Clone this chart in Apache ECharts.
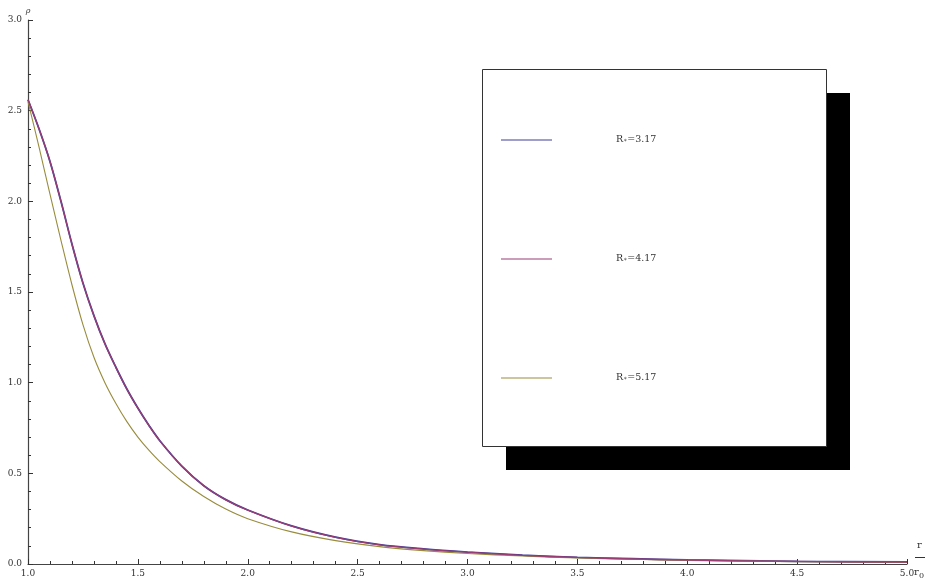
<!DOCTYPE html>
<html>
<head>
<meta charset="utf-8">
<script src="https://cdn.jsdelivr.net/npm/echarts@6/dist/echarts.min.js"></script>
<style>
  html, body { margin: 0; padding: 0; background: #fff; }
  #chart { width: 925px; height: 582px; }
</style>
</head>
<body>
<div id="chart"></div>
<script>
// Radius in units of r0
const rValues = [1.00, 1.05, 1.10, 1.15, 1.20, 1.25, 1.30, 1.35, 1.40, 1.45, 1.50, 1.55, 1.60,
                 1.70, 1.80, 1.90, 2.00, 2.20, 2.40, 2.60, 2.80, 3.00, 3.25, 3.50, 3.75, 4.00, 4.50, 5.00];

// Density profiles for each R*
const rho317 = [2.56, 2.40, 2.22, 2.00, 1.765, 1.55, 1.37, 1.215, 1.085, 0.965, 0.86, 0.765, 0.68,
                0.54, 0.432, 0.355, 0.298, 0.21, 0.148, 0.107, 0.083, 0.066, 0.049, 0.037, 0.029, 0.023, 0.015, 0.011];
const rho417 = [2.56, 2.40, 2.22, 2.00, 1.764, 1.549, 1.369, 1.214, 1.084, 0.964, 0.859, 0.764, 0.679,
                0.539, 0.431, 0.354, 0.297, 0.209, 0.147, 0.106, 0.082, 0.065, 0.048, 0.036, 0.028, 0.022, 0.014, 0.010];
const rho517 = [2.55, 2.30, 2.04, 1.785, 1.54, 1.32, 1.14, 1.00, 0.885, 0.785, 0.70, 0.628, 0.565,
                0.458, 0.372, 0.303, 0.25, 0.177, 0.129, 0.096, 0.074, 0.058, 0.044, 0.033, 0.026, 0.020, 0.013, 0.009];

const seriesNames = ['R*=3.17', 'R*=4.17', 'R*=5.17'];
const seriesColors = ['#3f3d99', '#993d74', '#998c3d'];

const xTicks = [1.0, 1.5, 2.0, 2.5, 3.0, 3.5, 4.0, 4.5, 5.0];
const yTicks = [0.0, 0.5, 1.0, 1.5, 2.0, 2.5, 3.0];

const FONT = '"DejaVu Serif", "Liberation Serif", serif';

function pairs(ys) { return rValues.map((x, i) => [x, ys[i]]); }

const chart = echarts.init(document.getElementById('chart'), null, { renderer: 'canvas' });

const axisCommon = {
  type: 'value',
  axisLine: { show: true, onZero: false, lineStyle: { color: '#444', width: 1.2 } },
  axisTick: { show: true, inside: true, length: 5, lineStyle: { color: '#333', width: 1 } },
  minorTick: { show: true, splitNumber: 5, length: 3, lineStyle: { color: '#333', width: 1 } },
  splitLine: { show: false },
  axisLabel: { color: '#333', fontFamily: FONT, fontSize: 9, formatter: v => v.toFixed(1) }
};

chart.setOption({
  animation: false,
  backgroundColor: '#fff',
  color: seriesColors,
  grid: { left: 28, right: 18, top: 20, bottom: 18, containLabel: false },
  xAxis: Object.assign({}, axisCommon, {
    min: xTicks[0], max: xTicks[xTicks.length - 1], interval: 0.5,
    axisLabel: Object.assign({}, axisCommon.axisLabel, { margin: 5 })
  }),
  yAxis: Object.assign({}, axisCommon, {
    min: yTicks[0], max: yTicks[yTicks.length - 1], interval: 0.5,
    name: '\u03c1', nameLocation: 'end', nameGap: 5,
    nameTextStyle: { fontFamily: FONT, fontStyle: 'italic', fontSize: 8, color: '#333', align: 'center' },
    axisLabel: Object.assign({}, axisCommon.axisLabel, { margin: 6 })
  }),
  legend: {
    orient: 'vertical',
    left: 501, top: 135,
    padding: 0,
    itemGap: 109,
    itemWidth: 51, itemHeight: 1.2,
    icon: 'rect',
    z: 10,
    data: seriesNames,
    formatter: name => '{a|R}{s|\u2217}{a|' + name.slice(2) + '}',
    textStyle: {
      padding: [0, 0, 0, 59],
      rich: {
        a: { fontFamily: FONT, fontSize: 9.5, color: '#333' },
        s: { fontFamily: FONT, fontSize: 6, color: '#333' }
      }
    }
  },
  graphic: [
    { type: 'rect', z: 5, shape: { x: 506, y: 93, width: 344, height: 377 }, style: { fill: '#000' } },
    { type: 'rect', z: 6, shape: { x: 482.5, y: 69.5, width: 344, height: 377 }, style: { fill: '#fff', stroke: '#333', lineWidth: 1 } },
    // r / r0 axis label
    { type: 'text', z: 6, style: { x: 917, y: 540, text: 'r', font: '10px ' + FONT, fill: '#333' } },
    { type: 'line', z: 6, shape: { x1: 915, y1: 557.5, x2: 925, y2: 557.5 }, style: { stroke: '#333', lineWidth: 1 } },
    { type: 'text', z: 6, style: { x: 914, y: 567, text: 'r', font: '10px ' + FONT, fill: '#333' } },
    { type: 'text', z: 6, style: { x: 919, y: 572, text: '0', font: '8px ' + FONT, fill: '#333' } }
  ],
  series: [
    { name: seriesNames[0], type: 'line', data: pairs(rho317), smooth: 0.35, showSymbol: false,
      lineStyle: { width: 1.8, color: seriesColors[0] }, z: 2 },
    { name: seriesNames[1], type: 'line', data: pairs(rho417), smooth: 0.35, showSymbol: false,
      lineStyle: { width: 1.3, color: seriesColors[1] }, z: 3 },
    { name: seriesNames[2], type: 'line', data: pairs(rho517), smooth: 0.35, showSymbol: false,
      lineStyle: { width: 1.1, color: seriesColors[2] }, z: 2 }
  ]
});
</script>
</body>
</html>
